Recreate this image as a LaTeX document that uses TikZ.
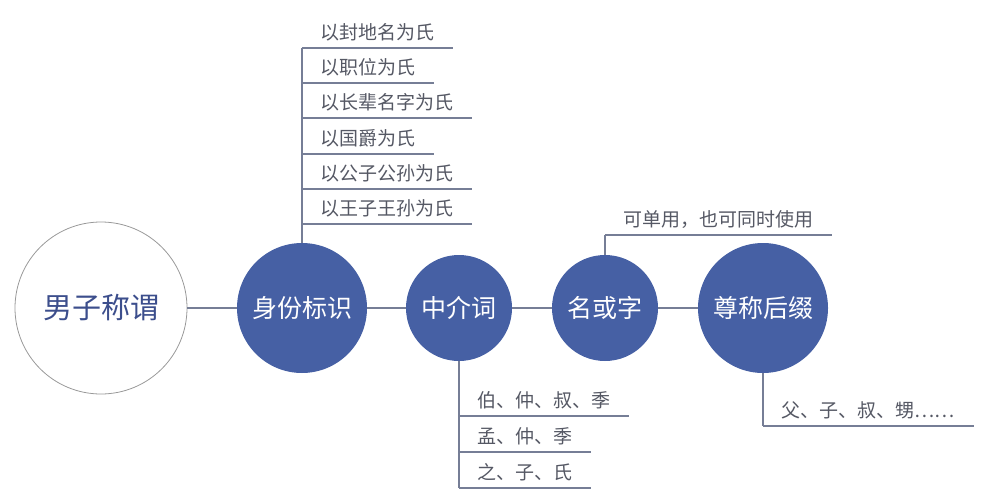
\documentclass[tikz,border=0pt]{standalone}
\usepackage{fontspec}
\setmainfont{Noto Sans CJK SC}
\usepackage{tikz}
\definecolor{disc}{RGB}{70,96,164}
\definecolor{wire}{RGB}{118,126,150}
\definecolor{leaftext}{RGB}{85,88,100}
\definecolor{titletext}{RGB}{60,78,140}

\begin{document}
\begin{tikzpicture}[x=1pt, y=-1pt,
  hub/.style={circle, fill=disc, text=white, inner sep=0pt, font=\fontsize{25}{30}\selectfont},
  leaf/.style={anchor=south west, inner xsep=18.5pt, inner ysep=4pt, text height=14pt, text depth=4pt, text=leaftext, font=\fontsize{19}{23}\selectfont},
  link/.style={draw=wire, line width=1.3pt}]
\useasboundingbox (0,0) rectangle (981,500);
\node[circle, draw=gray!80, line width=0.8pt, minimum size=172pt, inner sep=0pt, text=titletext, font=\fontsize{29}{34}\selectfont] (man) at (101,308) {男子称谓};
\node[hub, minimum size=130pt] (ident) at (302,308) {身份标识};
\node[hub, minimum size=106pt] (medi) at (459,308) {中介词};
\node[hub, minimum size=106pt] (given) at (605,308) {名或字};
\node[hub, minimum size=130pt] (honor) at (763,308) {尊称后缀};
\draw [link] (man) -- (ident);
\draw [link] (ident) -- (medi);
\draw [link] (medi) -- (given);
\draw [link] (given) -- (honor);
% origins of the surname
\node[leaf] (s1) at (302,48) {以封地名为氏};
\node[leaf] (s2) at (302,83) {以职位为氏};
\node[leaf] (s3) at (302,118) {以长辈名字为氏};
\node[leaf] (s4) at (302,154) {以国爵为氏};
\node[leaf] (s5) at (302,189) {以公子公孙为氏};
\node[leaf] (s6) at (302,224) {以王子王孙为氏};
\foreach \k in {1,...,6} \draw [link] (s\k.south west) -- (s\k.south east);
\draw [link] (ident.north) -- (s1.south west);
% middle words
\node[leaf] (m1) at (459,416) {伯、仲、叔、季};
\node[leaf] (m2) at (459,452) {孟、仲、季};
\node[leaf] (m3) at (459,488) {之、子、氏};
\foreach \k in {1,2,3} \draw [link] (m\k.south west) -- (m\k.south east);
\draw [link] (medi.south) -- (m3.south west);
% name note
\node[leaf] (g1) at (605,235) {可单用，也可同时使用};
\draw [link] (g1.south west) -- (g1.south east);
\draw [link] (given.north) -- (g1.south west);
% suffixes
\node[leaf] (h1) at (763,426) {父、子、叔、甥……};
\draw [link] (h1.south west) -- (h1.south east);
\draw [link] (honor.south) -- (h1.south west);
\end{tikzpicture}
\end{document}
